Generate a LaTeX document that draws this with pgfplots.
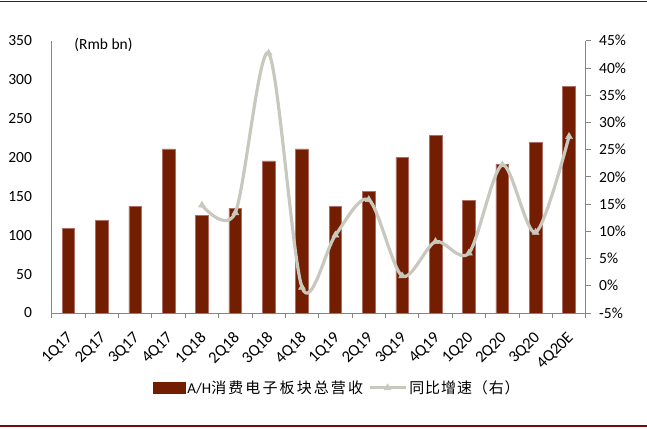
\documentclass[border=0pt]{standalone}
\usepackage{fontspec}
\setmainfont{Carlito}
\newfontfamily\cjk{Noto Sans CJK SC}
\newfontfamily\cjkwide[LetterSpace=14]{Noto Sans CJK SC}
\newfontfamily\cjkmid[LetterSpace=6]{Noto Sans CJK SC}
\usepackage{pgfplots}
\pgfplotsset{compat=1.18}
\definecolor{barcol}{RGB}{115,30,0}
\definecolor{bardraw}{RGB}{175,110,100}
\definecolor{linecol}{RGB}{200,200,190}
\definecolor{axcol}{RGB}{134,134,134}
\definecolor{framecol}{RGB}{110,12,12}
\pgfplotsset{
  mylinelegend/.style={legend image code/.code={\draw[mark repeat=2,mark phase=2,##1] plot coordinates {(0bp,0bp) (18bp,0bp) (36bp,0bp)};}},
  mybarlegend/.style={legend image code/.code={\fill[barcol] (0bp,-5.3bp) rectangle (32bp,5.3bp);}},
}
\begin{document}
\begin{tikzpicture}
\useasboundingbox (0,0) rectangle (647bp,429bp);
\draw[framecol, line width=1.3bp] (0,427.6bp) -- (647bp,427.6bp);
\draw[framecol, line width=1.3bp] (0,3bp) -- (647bp,3bp);
\begin{axis}[
  at={(51.7bp,116bp)}, anchor=south west,
  width=534bp, height=272.3bp, scale only axis,
  xmin=-0.5, xmax=15.5, ymin=0, ymax=350,
  ytick={0,50,...,350},
  xtick={0,...,15},
  xticklabels={1Q17,2Q17,3Q17,4Q17,1Q18,2Q18,3Q18,4Q18,1Q19,2Q19,3Q19,4Q19,1Q20,2Q20,3Q20,4Q20E},
  minor xtick={-0.5,0.5,...,15.5},
  axis x line*=bottom, axis y line*=left,
  axis line style={draw=axcol, line width=0.8bp, -},
  major x tick style={draw=none},
  minor x tick style={draw=axcol, line width=0.8bp},
  ytick style={draw=none},
  tick align=outside, minor tick length=5bp,
  /pgf/number format/assume math mode=true,
  yticklabel style={font=\fontsize{15.5bp}{17bp}\selectfont, xshift=-12bp},
  xticklabel style={font=\fontsize{16.5bp}{18bp}\selectfont, inner sep=0pt, anchor=east, xshift=2bp, yshift=-18bp, rotate=45},
  clip=false,
]
\addplot[ybar, bar width=12.7bp, fill=barcol, draw=bardraw, line width=0.5bp] coordinates {
(0,108.4) (1,118.6) (2,137) (3,211) (4,125) (5,134.5) (6,195.4) (7,211)
(8,136.6) (9,156) (10,199.6) (11,228.4) (12,144.8) (13,191) (14,219) (15,290.9)};
\node[anchor=west, font=\fontsize{15.5bp}{17bp}\selectfont] at (rel axis cs:0.036,0.984) {(Rmb bn)};
\end{axis}
\begin{axis}[
  at={(51.7bp,116bp)}, anchor=south west,
  width=534bp, height=272.3bp, scale only axis,
  xmin=-0.5, xmax=15.5, ymin=-5, ymax=45,
  ytick={-5,0,...,45},
  yticklabel={\pgfmathprintnumber{\tick}\%},
  axis x line=none, axis y line*=right,
  axis line style={draw=axcol, line width=0.8bp, -},
  ytick style={draw=axcol, line width=0.8bp},
  tick align=outside, major tick length=5bp,
  /pgf/number format/assume math mode=true,
  yticklabel style={font=\fontsize{15.5bp}{17bp}\selectfont, xshift=5bp},
  legend style={at={(0.535,-0.275)}, anchor=center, draw=none, legend columns=2,
    font=\fontsize{15bp}{17bp}\selectfont, nodes={inner sep=2bp},
    /tikz/every even column/.append style={column sep=3bp}},
  clip=false,
]
\addlegendimage{mybarlegend}
\addlegendentry{A/H{\cjkwide 消费电子板块总营收}}
\addplot[linecol, line width=3.2bp, smooth, mark=triangle*, mark size=4bp,
  mark options={fill=linecol, draw=linecol, line width=0.5bp}, mylinelegend]
coordinates {
(4,14.8) (5,13.4) (6,42.7) (7,-0.3) (8,9.3) (9,15.8) (10,1.8) (11,8.1)
(12,6.0) (13,22.2) (14,9.8) (15,27.4)};
\addlegendentry{{\cjkmid 同比增速（右）}}
\end{axis}
\end{tikzpicture}
\end{document}
